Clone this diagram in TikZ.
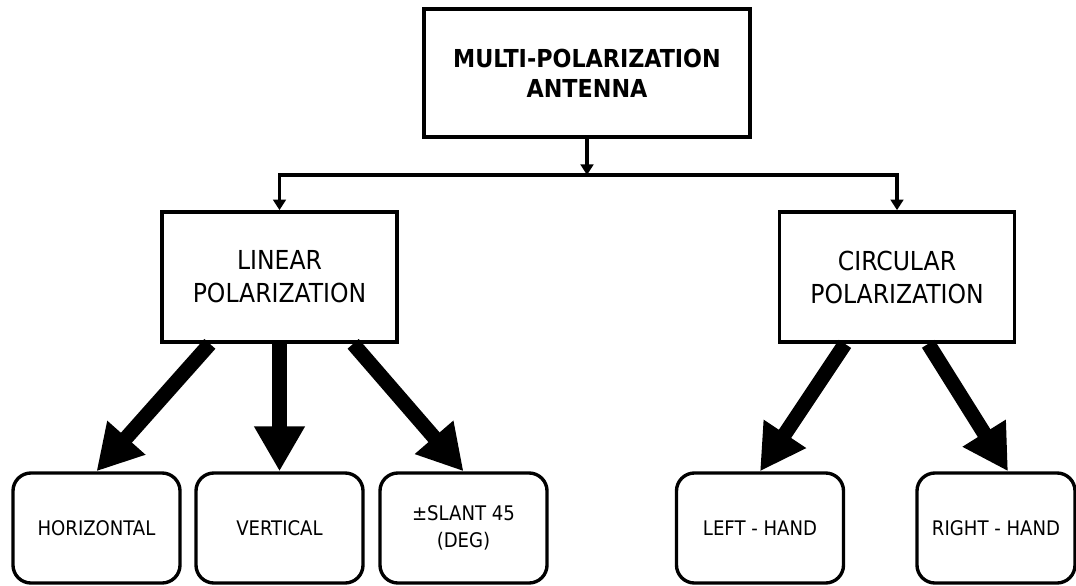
\documentclass[tikz,border=0pt]{standalone}
\usepackage{fontspec}
\setmainfont{DejaVu Sans}
\newfontfamily\condfont{DejaVu Sans Condensed}
\usetikzlibrary{arrows.meta}

\tikzset{
  mainbox/.style={draw, line width=3.2pt, minimum width=8.15cm, minimum height=3.2cm, align=center, font=\condfont\bfseries\fontsize{17.6}{21.3}\selectfont},
  typebox/.style={draw, line width=2.6pt, minimum width=5.875cm, minimum height=3.25cm, align=center, font=\condfont\fontsize{18.6}{23.5}\selectfont},
  leafbox/.style={draw, line width=2.4pt, rounded corners=0.45cm, minimum width=4.175cm, minimum height=2.75cm, align=center, font=\condfont\fontsize{14.3}{19.2}\selectfont},
  thinarrow/.style={line width=2.4pt, -{Triangle[width=9pt,length=7.5pt]}},
  fatarrow/.style={line width=10.5pt, -{Triangle[width=34pt,length=32pt]}},
}

\begin{document}
\begin{tikzpicture}[x=0.025cm, y=-0.025cm]
\useasboundingbox (0,0) rectangle (1076,585);
% top level
\node[mainbox] (multi) at (587,73) {MULTI-POLARIZATION\\ANTENNA};
% polarization types
\node[typebox] (linear) at (279.5,277) {LINEAR\\POLARIZATION};
\node[typebox] (circular) at (897,277) {CIRCULAR\\POLARIZATION};
% leaves
\node[leafbox] (horiz) at (96.5,528) {HORIZONTAL};
\node[leafbox] (vert) at (279.5,528) {VERTICAL};
\node[leafbox] (slant) at (463.5,528) {±SLANT 45\\(DEG)};
\node[leafbox] (lefthand) at (760,528) {LEFT - HAND};
\node[leafbox, minimum width=3.95cm] (righthand) at (996,528) {RIGHT - HAND};
% thin connectors
\coordinate (split) at (587,175);
\draw[thinarrow] (multi) -- (split);
\draw[thinarrow] (split) -| (linear);
\draw[thinarrow] (split) -| (circular);
% fat arrows
\draw[fatarrow] ([xshift=-1.74cm]linear.south) -- (horiz.north);
\draw[fatarrow] (linear.south) -- (vert.north);
\draw[fatarrow] ([xshift=1.84cm]linear.south) -- (slant.north);
\draw[fatarrow] ([xshift=-1.3cm]circular.south) -- (lefthand.north);
\draw[fatarrow] ([xshift=0.78cm]circular.south) -- ([xshift=0.3cm]righthand.north);
\end{tikzpicture}
\end{document}
